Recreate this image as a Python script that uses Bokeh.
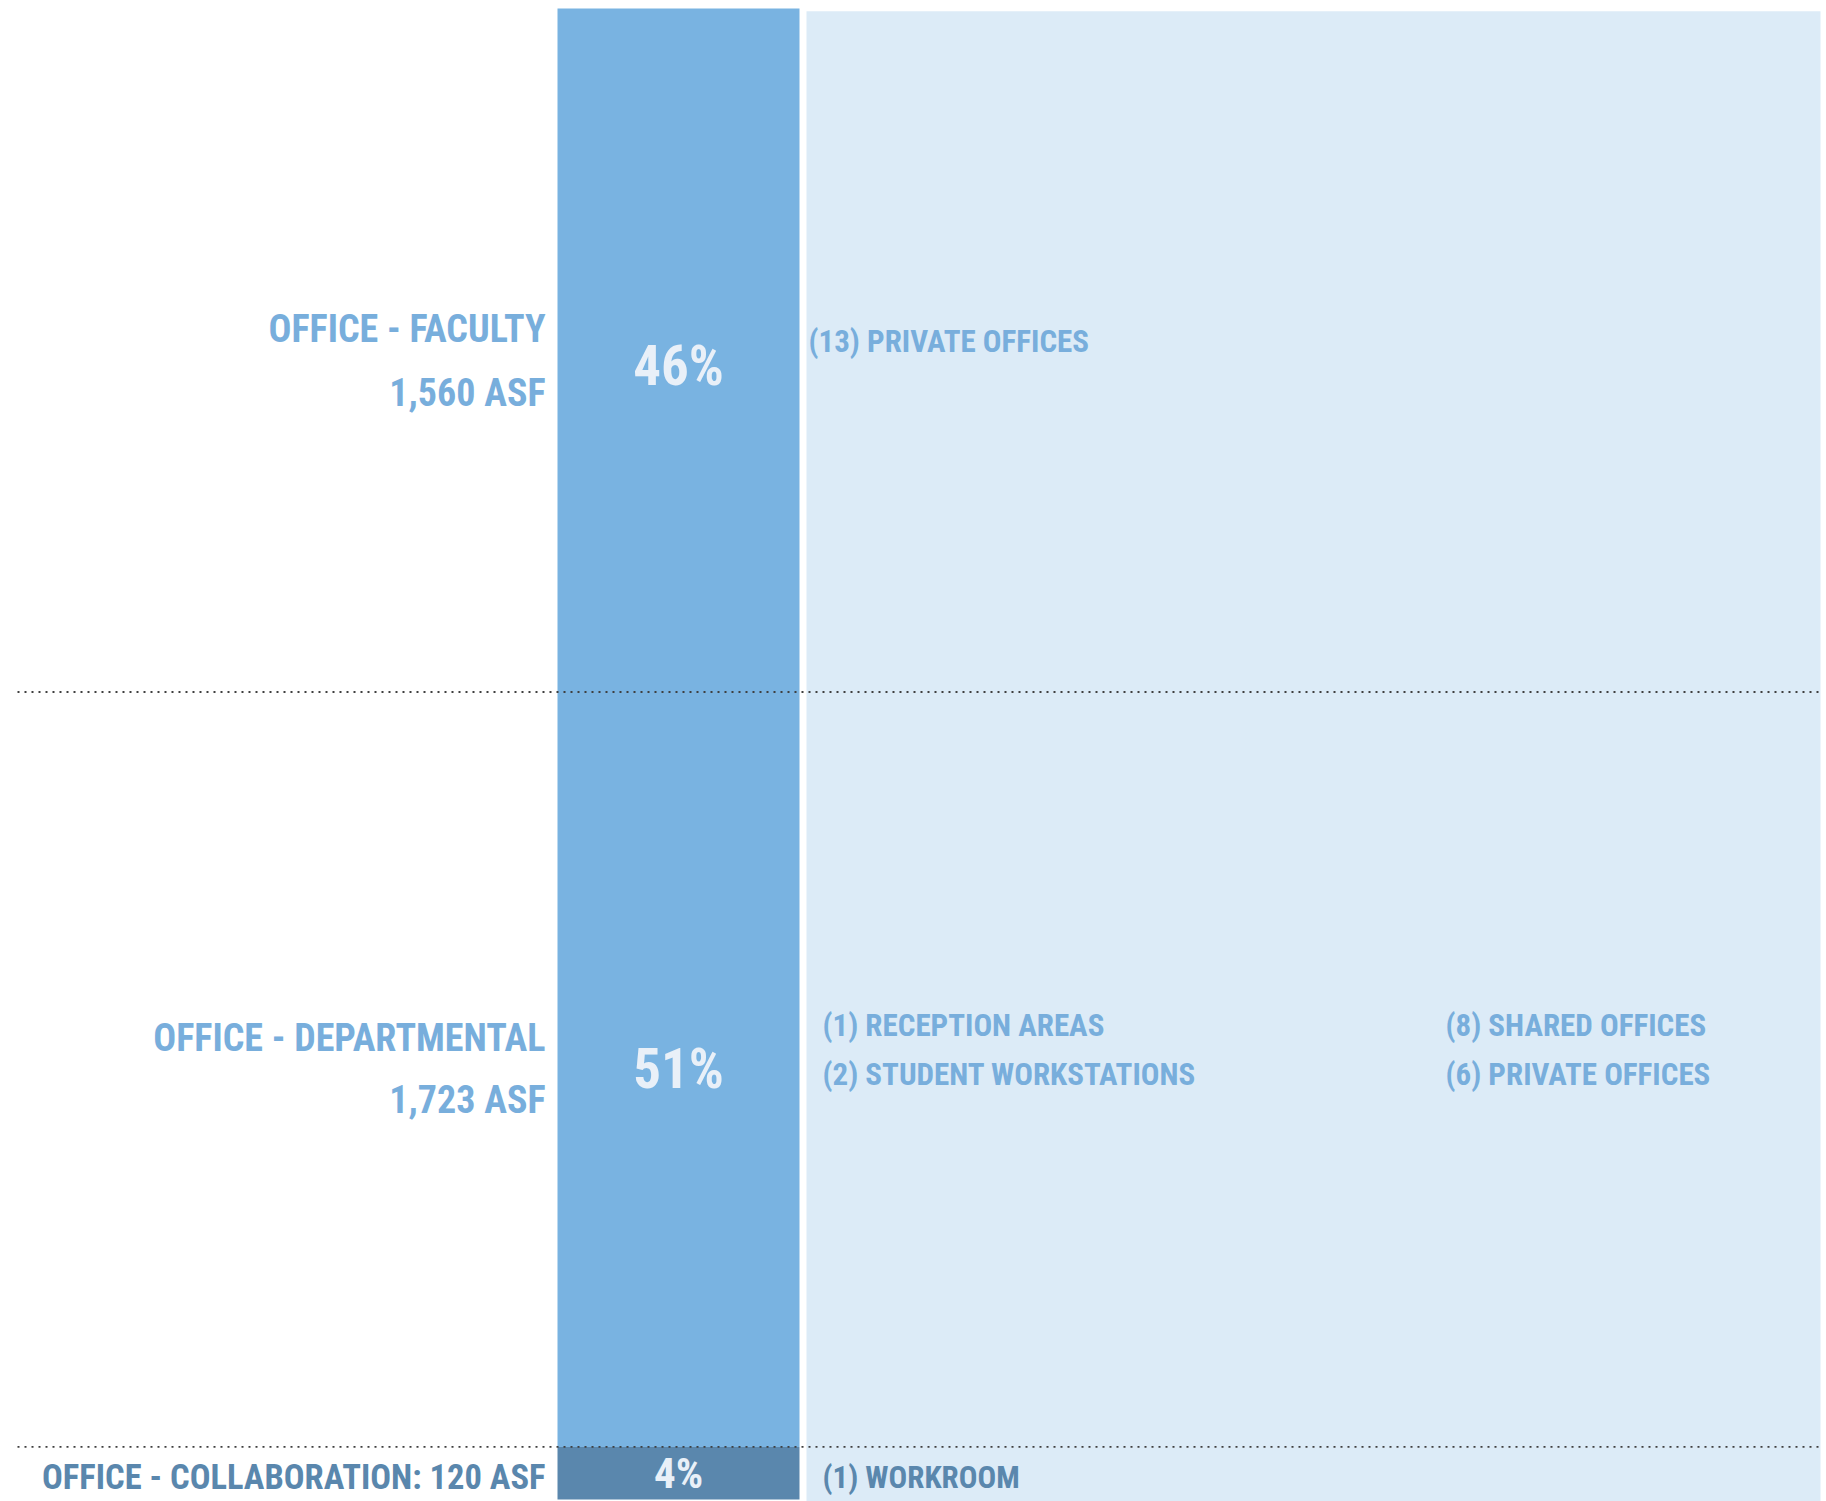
from bokeh.plotting import figure
from bokeh.models import Range1d, ColumnDataSource
from bokeh.core.properties import value
from bokeh.embed import file_html
from bokeh.resources import INLINE

# ---- data ----
categories = ["OFFICE - FACULTY", "OFFICE - DEPARTMENTAL", "OFFICE - COLLABORATION"]
asf = [1560, 1723, 120]
pct_labels = ["46%", "51%", "4%"]
asf_labels = ["1,560 ASF", "1,723 ASF", "120 ASF"]
details_left = [["(13) PRIVATE OFFICES"],
                ["(1) RECEPTION AREAS", "(2) STUDENT WORKSTATIONS"],
                ["(1) WORKROOM"]]
details_right = [[], ["(8) SHARED OFFICES", "(6) PRIVATE OFFICES"], []]

total = sum(asf)
order = [2, 1, 0]  # bottom to top
bottoms, tops = {}, {}
acc = 0
for i in order:
    bottoms[i] = acc
    acc += asf[i]
    tops[i] = acc

FONT = value("'Roboto Condensed', 'Open Sans Condensed', 'DejaVu Sans Condensed', 'Liberation Sans Narrow', sans-serif")
LABEL = "#78aedc"
DARK = "#5a87ad"
BAR = "#79b3e1"
PANEL = "#dcebf7"
PCT = "#e9f0f8"

W, H = 1826, 1501
p = figure(width=W, height=H, output_backend="svg", toolbar_location=None,
           x_range=Range1d(0, W), y_range=Range1d(-4.6, total + 18.3),
           min_border=0, outline_line_color=None)
p.axis.visible = False
p.grid.visible = False
p.background_fill_color = "white"
p.border_fill_color = "white"

# light background panel
p.quad(left=806, right=1820, bottom=-4.6, top=total - 6, fill_color=PANEL, line_color=None)

# stacked bar
bar_src = ColumnDataSource(dict(
    bottom=[bottoms[i] for i in range(3)],
    top=[tops[i] for i in range(3)],
    color=[BAR, BAR, DARK]))
p.quad(left=557, right=799, bottom="bottom", top="top", fill_color="color",
       line_color=None, source=bar_src)

# dotted separators
for i in [0, 1]:
    yb = bottoms[i]
    p.line(x=[17, 1820], y=[yb, yb], line_color="#3f3f3f", line_width=1.8,
           line_dash="2 5")

def mid(i):
    return (bottoms[i] + tops[i]) / 2

def txt(x, i, t, dy, align, size, color):
    p.text(x=[x], y=[mid(i)], text=[t], y_offset=[dy], text_align=align,
           text_baseline="middle", text_font=FONT, text_font_style="bold",
           text_font_size=size, text_color=color)

# Faculty
txt(545, 0, categories[0], -21, "right", "38px", LABEL)
txt(545, 0, asf_labels[0], 43, "right", "38px", LABEL)
txt(678, 0, pct_labels[0], 16, "center", "55px", PCT)
for k, t in enumerate(details_left[0]):
    txt(808, 0, t, -9 + 49 * k, "left", "31px", LABEL)

# Departmental
txt(545, 1, categories[1], -31, "right", "38px", LABEL)
txt(545, 1, asf_labels[1], 31, "right", "38px", LABEL)
txt(678, 1, pct_labels[1], 0, "center", "55px", PCT)
for k, t in enumerate(details_left[1]):
    txt(822, 1, t, -44 + 49 * k, "left", "31px", LABEL)
for k, t in enumerate(details_right[1]):
    txt(1445, 1, t, -44 + 49 * k, "left", "31px", LABEL)

# Collaboration
txt(545, 2, categories[2] + ": " + asf_labels[2], 4, "right", "34.5px", DARK)
txt(678, 2, pct_labels[2], 0, "center", "43px", PCT)
for k, t in enumerate(details_left[2]):
    txt(822, 2, t, 4, "left", "31px", DARK)

open("out.html", "w").write(file_html(p, INLINE))
